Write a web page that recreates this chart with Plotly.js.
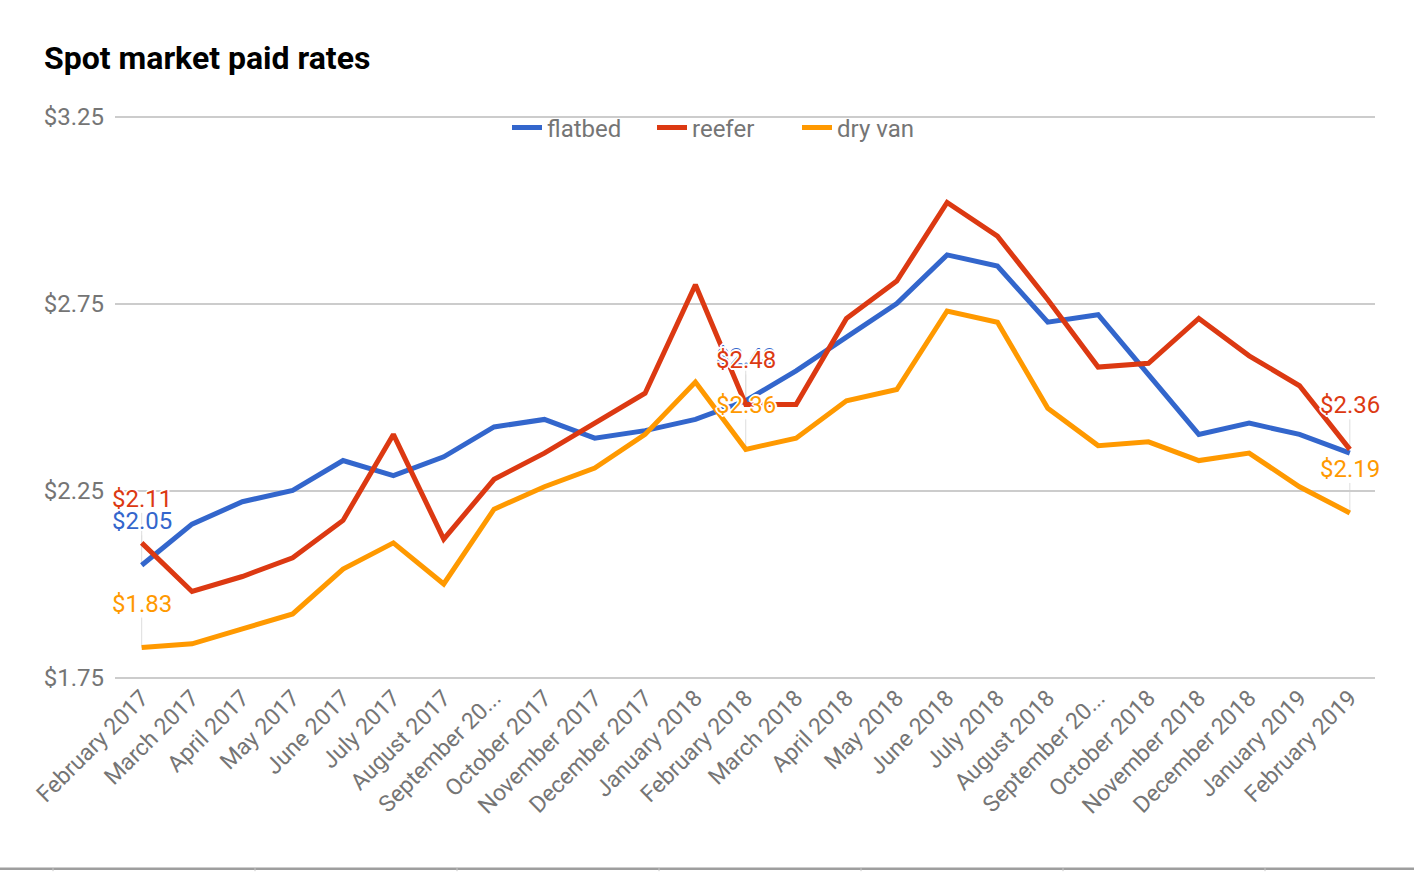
<!DOCTYPE html>
<html>
<head>
<meta charset="utf-8">
<script src="https://cdn.plot.ly/plotly-3.0.1.min.js"></script>
<style>
html,body{margin:0;padding:0;background:#fff;}
#chart{width:1414px;height:872px;}
</style>
</head>
<body>
<div id="chart"></div>
<script>
const months = ["February 2017","March 2017","April 2017","May 2017","June 2017","July 2017","August 2017","September 20...","October 2017","November 2017","December 2017","January 2018","February 2018","March 2018","April 2018","May 2018","June 2018","July 2018","August 2018","September 20...","October 2018","November 2018","December 2018","January 2019","February 2019"];
const flatbed = [2.05,2.16,2.22,2.25,2.33,2.29,2.34,2.42,2.44,2.39,2.41,2.44,2.49,2.57,2.66,2.75,2.88,2.85,2.70,2.72,2.56,2.40,2.43,2.40,2.35];
const reefer  = [2.11,1.98,2.02,2.07,2.17,2.40,2.12,2.28,2.35,2.43,2.51,2.80,2.48,2.48,2.71,2.81,3.02,2.93,2.76,2.58,2.59,2.71,2.61,2.53,2.36];
const dryVan  = [1.83,1.84,1.88,1.92,2.04,2.11,2.00,2.20,2.26,2.31,2.40,2.54,2.36,2.39,2.49,2.52,2.73,2.70,2.47,2.37,2.38,2.33,2.35,2.26,2.19];
const yTicks = [1.75,2.25,2.75,3.25];
const yTickText = ["$1.75","$2.25","$2.75","$3.25"];
const flatbedLabelIdx = [0,12];
const reeferLabelIdx = [0,12,24];
const dryVanLabelIdx = [0,12,24];

const colors = {flatbed:"#3366cc", reefer:"#dc3912", dryVan:"#ff9900"};
const xs = months.map((m,i)=>i);
const FONT = "Roboto, Arial, sans-serif";
const halo = "1px 1px 0 #fff, -1px -1px 0 #fff, 1px -1px 0 #fff, -1px 1px 0 #fff, 2px 0 0 #fff, -2px 0 0 #fff, 0 2px 0 #fff, 0 -2px 0 #fff";

const series = [
  {name:"flatbed", y:flatbed, c:colors.flatbed, idx:flatbedLabelIdx},
  {name:"reefer", y:reefer, c:colors.reefer, idx:reeferLabelIdx},
  {name:"dry van", y:dryVan, c:colors.dryVan, idx:dryVanLabelIdx}
];

const traces = series.map(s=>({
  type:"scatter", mode:"lines", name:s.name, x:xs, y:s.y,
  line:{color:s.c, width:5}, hoverinfo:"skip"
}));

const annotations = [];
const shapes = [];
series.forEach(s=>{
  s.idx.forEach(i=>{
    annotations.push({
      x:i, y:s.y[i], xref:"x", yref:"y", yshift:44, showarrow:false,
      text:"$"+s.y[i].toFixed(2),
      font:{family:FONT, size:24, color:s.c, shadow:halo}
    });
    shapes.push({
      type:"line", xref:"x", yref:"y", ysizemode:"pixel", yanchor:s.y[i],
      x0:i, x1:i, y0:0, y1:30, layer:"below",
      line:{color:"#dddddd", width:1}
    });
  });
});

// plot area with a small pad so the edge gridlines are drawn
const eps = 0.004;
const pxPerUnit = (678 - 116) / 1.5;
const padPx = eps * pxPerUnit;
const plotL = 115, plotR = 1375, plotT = 116 - padPx, plotB = 678 + padPx;
const px2x = p => (p - plotL)/(plotR - plotL);
const py2y = p => (plotB - p)/(plotB - plotT);
// bottom spreadsheet border
shapes.push({type:"line", xref:"paper", yref:"paper", x0:px2x(0), x1:px2x(1414), y0:py2y(869.5), y1:py2y(869.5), line:{color:"#9e9e9e", width:2.5}});
[53,255,457,659,861,1063,1265].forEach(p=>{
  shapes.push({type:"line", xref:"paper", yref:"paper", x0:px2x(p), x1:px2x(p), y0:py2y(869), y1:py2y(872), line:{color:"#c8c8c8", width:1}});
});

const layout = {
  width:1414, height:872,
  margin:{l:plotL, r:1414-plotR, t:plotT, b:872-plotB, autoexpand:false},
  paper_bgcolor:"#fff", plot_bgcolor:"#fff",
  font:{family:FONT, color:"#757575"},
  title:{text:"<b>Spot market paid rates</b>", xref:"container", yref:"container", x:44/1414, xanchor:"left", y:1-58/872, yanchor:"middle", font:{family:FONT, size:32, color:"#000"}},
  showlegend:true,
  legend:{orientation:"h", xref:"container", yref:"container", x:507/1414, xanchor:"left", y:1-128/872, yanchor:"middle", font:{family:FONT, size:24, color:"#757575"}, itemwidth:30, entrywidth:100, entrywidthmode:"pixels", bgcolor:"rgba(0,0,0,0)"},
  xaxis:{
    range:[-0.53,24.5], tickvals:xs, ticktext:months, tickangle:-45,
    showgrid:false, zeroline:false, showline:false, ticks:"",
    tickfont:{family:FONT, size:23, color:"#757575"}, fixedrange:true
  },
  yaxis:{
    range:[1.75-eps,3.25+eps], tickvals:yTicks, ticktext:yTickText,
    showgrid:true, gridcolor:"#cccccc", gridwidth:2, zeroline:false, showline:false, ticks:"",
    ticklabelstandoff:10,
    tickfont:{family:FONT, size:24, color:"#757575"}, fixedrange:true
  },
  annotations:annotations,
  shapes:shapes,
  hovermode:false
};

Plotly.newPlot("chart", traces, layout, {displayModeBar:false, staticPlot:true});
</script>
</body>
</html>
